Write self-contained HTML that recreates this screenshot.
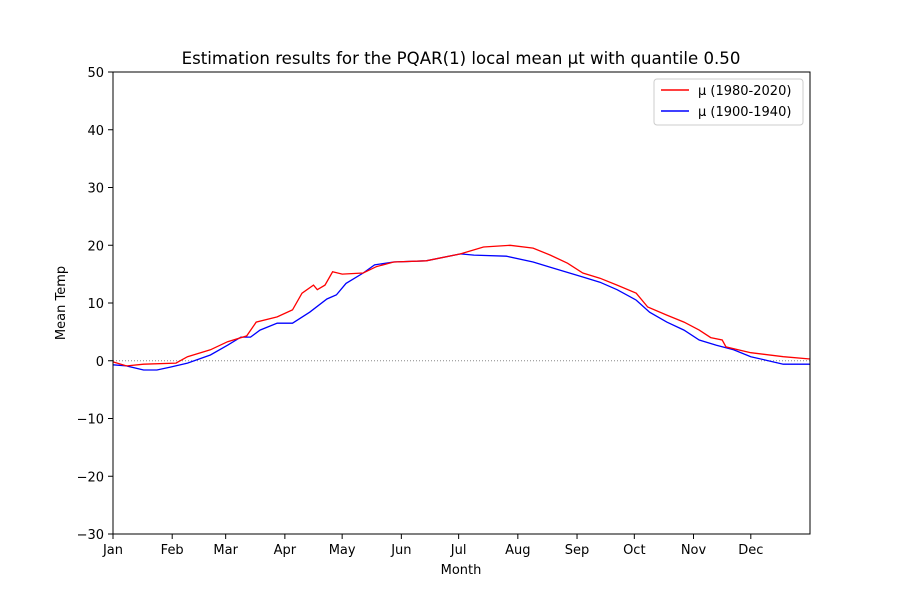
<!DOCTYPE html>
<html><head><meta charset="utf-8"><style>
body{margin:0;background:#fff}
svg text{font-family:"DejaVu Sans","Liberation Sans",sans-serif;fill:#000}
</style></head><body>
<svg id="chart" width="900" height="600">
<rect width="900" height="600" fill="#fff"/>
<text x="461" y="64" font-size="16.6" text-anchor="middle">Estimation results for the PQAR(1) local mean μt with quantile 0.50</text>
<g id="grid"></g>
<g id="series"></g>
<rect x="113" y="72" width="697" height="462" fill="none" stroke="#000" stroke-width="1"/>
<g id="axes"></g>
<text x="461" y="574" font-size="13" text-anchor="middle">Month</text>
<text transform="translate(65,303) rotate(-90)" font-size="13" text-anchor="middle">Mean Temp</text>
<g>
<rect x="654" y="79" width="149" height="46" rx="3" fill="#fff" stroke="#ccc"/>
<line x1="661" y1="90" x2="689" y2="90" stroke="red" stroke-width="1.5"/>
<text x="698" y="95" font-size="13">μ (1980-2020)</text>
<line x1="661" y1="111" x2="689" y2="111" stroke="blue" stroke-width="1.5"/>
<text x="698" y="116" font-size="13">μ (1900-1940)</text>
</g>
</svg>
<script>
const monthLabels=["Jan","Feb","Mar","Apr","May","Jun","Jul","Aug","Sep","Oct","Nov","Dec"];
const monthDays=[0,31,59,90,120,151,181,212,243,273,304,334];
const yTicks=[-30,-20,-10,0,10,20,30,40,50];
const redDays=[0,7,16,33,39,51,60,70,75,86,94,99,105,107,111,115,120,131,138,147,164,182,194,208,220,229,238,246,255,264,274,280,290,299,307,313,319,321,334,351,365];
const redVals=[-0.2,-0.9,-0.6,-0.4,0.7,1.9,3.3,4.3,6.7,7.6,8.8,11.7,13.1,12.3,13.1,15.4,15.0,15.2,16.3,17.1,17.3,18.5,19.7,20.0,19.5,18.3,16.9,15.2,14.3,13.1,11.7,9.3,7.9,6.7,5.3,4.0,3.6,2.4,1.4,0.7,0.3];
const blueDays=[0,7,16,23,30,39,51,60,67,72,77,86,94,103,112,117,122,131,137,147,164,182,189,206,220,229,246,255,264,274,281,290,299,307,316,325,334,342,351,365];
const blueVals=[-0.7,-0.9,-1.6,-1.6,-1.1,-0.4,1.0,2.7,4.1,4.1,5.3,6.5,6.5,8.4,10.7,11.4,13.4,15.2,16.6,17.1,17.3,18.5,18.3,18.1,17.1,16.2,14.5,13.6,12.3,10.5,8.4,6.7,5.3,3.6,2.7,1.9,0.7,0.1,-0.6,-0.6];
const NS="http://www.w3.org/2000/svg";
const X=d=>113+d*697/365;
const Y=v=>72+(50-v)*462/80;
const axes=document.getElementById('axes'),grid=document.getElementById('grid'),series=document.getElementById('series');
function mk(t,a,p){const e=document.createElementNS(NS,t);for(const k in a)e.setAttribute(k,a[k]);p.appendChild(e);return e;}
const zl=mk('line',{x1:113,x2:810,y1:Y(0),y2:Y(0),stroke:'#888','stroke-dasharray':'1,2','stroke-width':1},grid);


yTicks.forEach(v=>{
  const l=mk('line',{x1:108,x2:113,y1:Y(v),y2:Y(v),stroke:'#000'},axes);
  
  
  const t=mk('text',{x:104,y:Y(v)+5,'font-size':13,'text-anchor':'end'},axes);
  t.textContent=String(v).replace('-','\u2212');
  
  
});
monthDays.forEach((d,i)=>{
  const l=mk('line',{x1:X(d),x2:X(d),y1:534,y2:539,stroke:'#000'},axes);
  
  
  const t=mk('text',{x:X(d),y:554,'font-size':13,'text-anchor':'middle'},axes);
  t.textContent=monthLabels[i];
  
  
});
function line(days,vals,c,name){
  const p=mk('polyline',{points:days.map((d,i)=>X(d).toFixed(1)+','+Y(vals[i]).toFixed(1)).join(' '),fill:'none',stroke:c,'stroke-width':1.3},series);
  
  
}
line(blueDays,blueVals,'blue','series-1900-1940');
line(redDays,redVals,'red','series-1980-2020');
</script>
</body></html>
